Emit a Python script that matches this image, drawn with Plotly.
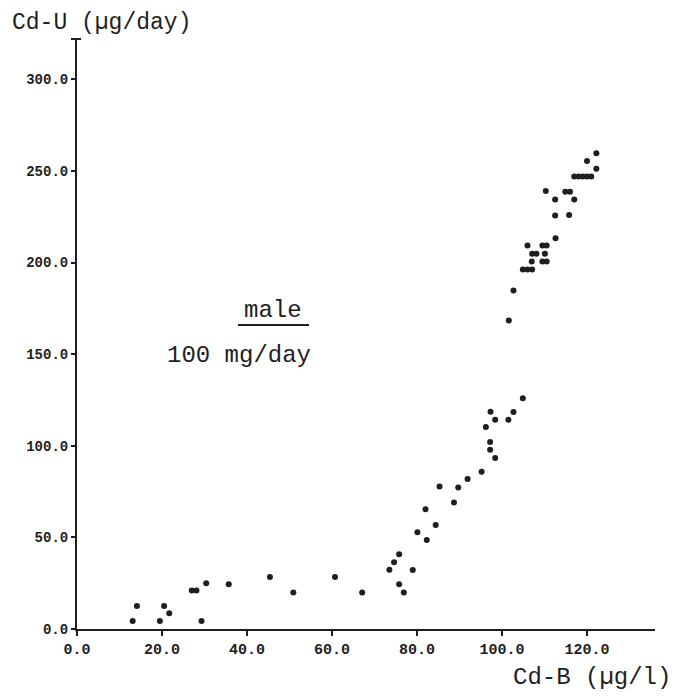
import plotly.graph_objects as go

# Cd-B (µg/l) values
cd_b = [13.1, 14.1, 19.5, 20.5, 21.7, 27.0, 28.1, 29.3, 30.4, 35.7,
        45.4, 50.9, 60.7, 67.1, 73.5, 74.6, 75.8, 75.8, 76.9, 79.0,
        80.1, 82.3, 82.0, 84.4, 85.3, 88.7, 89.7, 91.9, 95.2, 96.2,
        97.2, 97.2, 97.3, 98.4, 98.4, 101.5, 102.7, 104.9, 101.6, 102.7,
        104.9, 106.0, 107.1, 107.0, 109.5, 110.5, 107.1, 108.1, 110.1, 106.0,
        109.5, 110.5, 112.6, 112.5, 115.8, 112.5, 117.0, 110.3, 114.9, 116.0,
        117.0, 118.0, 119.0, 120.0, 121.0, 122.2, 120.0, 122.2]
# Cd-U (µg/day) values
cd_u = [4.4, 12.6, 4.4, 12.6, 8.6, 21.0, 21.0, 4.4, 25.0, 24.4,
        28.4, 19.9, 28.4, 19.9, 32.4, 36.4, 40.8, 24.4, 19.9, 32.2,
        52.8, 48.6, 65.4, 56.7, 77.8, 69.0, 77.2, 81.8, 85.8, 110.2,
        97.8, 102.0, 118.6, 114.2, 93.3, 114.2, 118.4, 126.0, 168.3, 184.7,
        196.2, 196.2, 196.2, 200.5, 200.5, 200.5, 204.8, 204.8, 204.8, 209.3,
        209.3, 209.3, 213.3, 225.7, 226.0, 234.4, 234.4, 239.0, 238.6, 238.6,
        247.0, 247.0, 247.0, 247.0, 247.0, 251.2, 255.4, 259.6]

x_ticks = [0, 20, 40, 60, 80, 100, 120]
y_ticks = [0, 50, 100, 150, 200, 250, 300]

MONO = "Liberation Mono, Courier New, monospace"
INK = "#1e1e1e"

# plot-area geometry (pixels inside the figure)
L, T, W, H = 69, 31, 578, 590
FIG_W, FIG_H = 669, 688


def px(xw):
    # window x -> paper x (page has an 8px body margin)
    return (xw - 8 - L) / W


def py(yw):
    return (T + H - (yw - 8)) / H


fig = go.Figure()
fig.add_trace(go.Scatter(
    x=cd_b, y=cd_u, mode="markers",
    marker=dict(size=6, color=INK),
    showlegend=False, hoverinfo="x+y",
))

fig.update_layout(
    width=FIG_W, height=FIG_H,
    margin=dict(l=L, r=FIG_W - L - W, t=T, b=FIG_H - T - H, autoexpand=False),
    paper_bgcolor="white", plot_bgcolor="white",
    font=dict(family=MONO, color=INK),
    xaxis=dict(
        range=[0, 136], tickvals=x_ticks, tickformat=".1f",
        showgrid=False, zeroline=False, showline=True,
        linecolor=INK, linewidth=2, ticks="outside", ticklen=5,
        tickwidth=1.5, tickcolor=INK,
        tickfont=dict(family=MONO, size=15, color=INK, weight="bold"),
    ),
    yaxis=dict(
        range=[0, 322], tickvals=y_ticks, tickformat=".1f",
        showgrid=False, zeroline=False, showline=True,
        linecolor=INK, linewidth=2, ticks="outside", ticklen=4,
        tickwidth=1.5, tickcolor=INK,
        tickfont=dict(family=MONO, size=14, color=INK, weight="bold"),
    ),
)

# axis titles
fig.add_annotation(text="Cd-U (µg/day)", xref="paper", yref="paper",
                   x=px(11), y=py(8.5), xanchor="left", yanchor="top",
                   borderpad=0, showarrow=False,
                   font=dict(family=MONO, size=23, color=INK))
fig.add_annotation(text="Cd-B (µg/l)", xref="paper", yref="paper",
                   x=px(673), y=py(677),
                   xanchor="right", yanchor="middle",
                   showarrow=False, font=dict(family=MONO, size=24, color=INK))

# in-plot labels
fig.add_annotation(text="male", xref="paper", yref="paper",
                   x=px(273), y=py(311),
                   xanchor="center", yanchor="middle", showarrow=False,
                   font=dict(family=MONO, size=24, color=INK))
fig.add_shape(type="line", xref="paper", yref="paper",
              x0=px(238), x1=px(309), y0=py(325), y1=py(325),
              line=dict(color=INK, width=2))
fig.add_annotation(text="100 mg/day", xref="paper", yref="paper",
                   x=px(239), y=py(355),
                   xanchor="center", yanchor="middle", showarrow=False,
                   font=dict(family=MONO, size=24, color=INK))

# small end tick at the top of the y axis
fig.add_shape(type="line", xref="paper", yref="paper",
              x0=-6 / W, x1=4 / W, y0=1, y1=1,
              line=dict(color=INK, width=2))

fig.write_html("out.html")
